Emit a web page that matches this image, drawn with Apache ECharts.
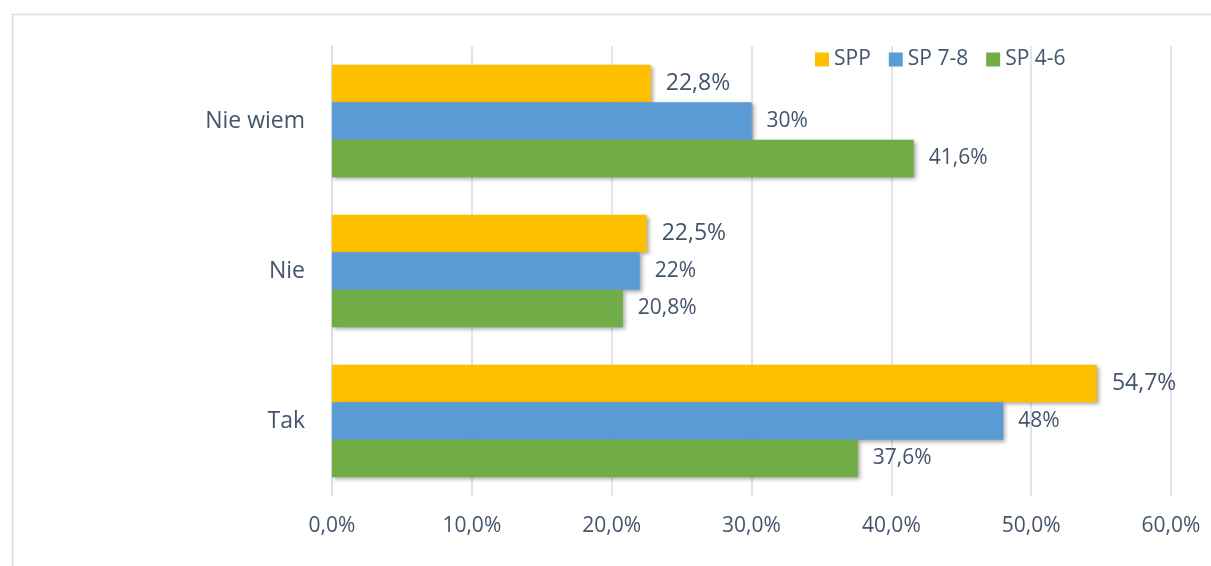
<!DOCTYPE html>
<html>
<head>
<meta charset="utf-8">
<script src="https://cdn.jsdelivr.net/npm/echarts@6/dist/echarts.min.js"></script>
<style>
  html, body { margin: 0; padding: 0; background: #ffffff; }
  #chart { width: 1211px; height: 566px; }
</style>
</head>
<body>
<div id="chart"></div>
<script>
// Answer categories, listed bottom to top on the vertical axis
const categories = ['Tak', 'Nie', 'Nie wiem'];

// Percentages per school level, in category order
const spp = [54.7, 22.5, 22.8];
const sp78 = [48, 22, 30];
const sp46 = [37.6, 20.8, 41.6];

// Value axis range and step (percent)
const axisMin = 0;
const axisMax = 60;
const axisStep = 10;

const textColor = '#44546A';
const gridColor = '#D9DEE6';
const font = '"Open Sans", "DejaVu Sans", sans-serif';

const pct = v => String(v).replace('.', ',') + '%';

const shadow = {
  shadowColor: 'rgba(0,0,0,0.35)',
  shadowBlur: 4,
  shadowOffsetX: 2,
  shadowOffsetY: 2
};

function makeSeries(name, data, color, labelSize) {
  return {
    name: name,
    type: 'bar',
    data: data,
    barGap: '0%',
    barCategoryGap: '25%',
    itemStyle: Object.assign({ color: color }, shadow),
    label: {
      show: true,
      position: 'right',
      distance: 15,
      color: textColor,
      fontFamily: font,
      fontSize: labelSize,
      formatter: p => pct(p.value)
    },
    emphasis: { disabled: true },
    animation: false
  };
}

const chart = echarts.init(document.getElementById('chart'), null, { renderer: 'canvas' });

chart.setOption({
  backgroundColor: '#ffffff',
  animation: false,
  textStyle: { fontFamily: font, color: textColor },
  graphic: [{
    type: 'rect',
    left: 10,
    top: 12,
    shape: { width: 1400, height: 700 },
    style: { fill: 'none', stroke: gridColor, lineWidth: 1.5 },
    silent: true,
    z: -10
  }],
  legend: {
    data: ['SPP', 'SP 7-8', 'SP 4-6'],
    left: 815,
    top: 49,
    padding: 0,
    itemWidth: 14,
    itemHeight: 14,
    itemGap: 18,
    icon: 'rect',
    textStyle: { color: textColor, fontFamily: font, fontSize: 21 },
    selectedMode: false
  },
  grid: {
    left: 332,
    right: 40,
    top: 46,
    bottom: 70,
    containLabel: false
  },
  xAxis: {
    type: 'value',
    min: axisMin,
    max: axisMax,
    interval: axisStep,
    axisLine: { show: false },
    axisTick: { show: false },
    splitLine: { show: true, lineStyle: { color: gridColor, width: 1.5 } },
    axisLabel: {
      color: textColor,
      fontFamily: font,
      fontSize: 21,
      margin: 20,
      formatter: v => v.toFixed(1).replace('.', ',') + '%'
    }
  },
  yAxis: {
    type: 'category',
    data: categories,
    axisLine: { show: true, lineStyle: { color: gridColor, width: 1.5 } },
    axisTick: { show: false },
    axisLabel: {
      color: textColor,
      fontFamily: font,
      fontSize: 23,
      margin: 27
    }
  },
  // Within each category the first series sits on top
  series: [
    makeSeries('SPP', spp, '#FFC000', 23),
    makeSeries('SP 7-8', sp78, '#5B9BD5', 21),
    makeSeries('SP 4-6', sp46, '#70AD47', 21)
  ]
});
</script>
</body>
</html>
